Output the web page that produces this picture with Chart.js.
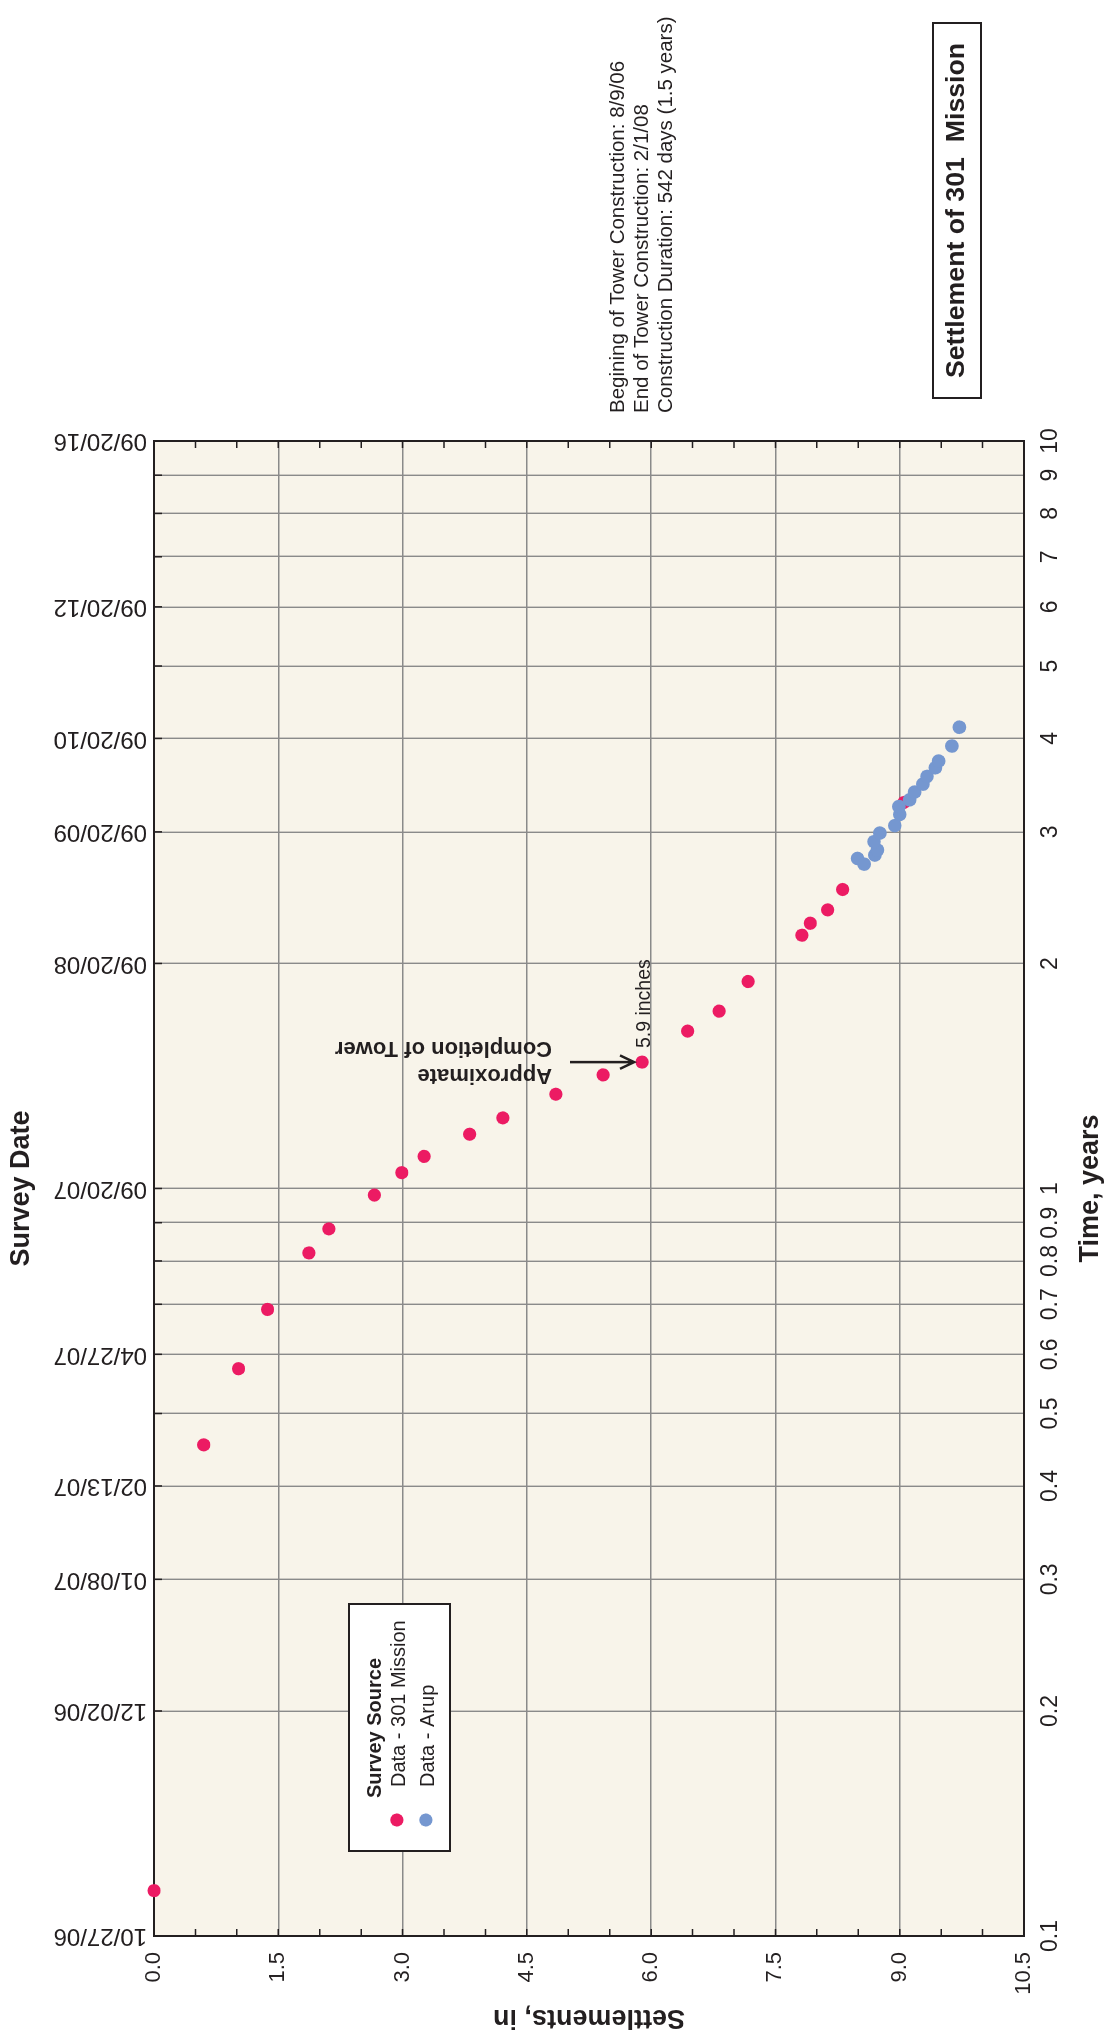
<!DOCTYPE html>
<html>
<head>
<meta charset="utf-8">
<title>Settlement of 301 Mission</title>
<script src="https://cdn.jsdelivr.net/npm/chart.js@4.4.1/dist/chart.umd.min.js"></script>
<style>
html, body { margin: 0; padding: 0; width: 1110px; height: 2034px; overflow: hidden; background: #fff; }
/* the chart is drawn landscape and turned a quarter turn, like the printed sheet */
#wrap { position: absolute; left: 0; top: 0; width: 2034px; height: 1110px; transform-origin: 0 0; transform: translate(0px, 2034px) rotate(-90deg); }
</style>
</head>
<body>
<div id="wrap"><canvas id="chart-area" width="2034" height="1110"></canvas></div>
<script>
// survey data, time in years after 09/20/06, settlement in inches
var missionTime = [0.115, 0.454, 0.574, 0.689, 0.820, 0.883, 0.980, 1.050, 1.104, 1.182, 1.243,
	1.337, 1.419, 1.476, 1.624, 1.727, 1.892, 2.182, 2.264, 2.359, 2.512, 3.284];
var missionSettle = [0.00, 0.60, 1.02, 1.37, 1.87, 2.11, 2.66, 2.99, 3.26, 3.81, 4.21,
	4.85, 5.42, 5.89, 6.44, 6.82, 7.17, 7.82, 7.92, 8.13, 8.31, 9.05];
var arupTime = [2.764, 2.716, 2.793, 2.837, 2.911, 2.989, 3.058, 3.165, 3.243, 3.311, 3.391,
	3.475, 3.559, 3.655, 3.731, 3.908, 4.141];
var arupSettle = [8.49, 8.57, 8.70, 8.73, 8.69, 8.76, 8.94, 9.00, 8.99, 9.12, 9.18,
	9.28, 9.33, 9.43, 9.47, 9.63, 9.72];

// axes
var timeTicks = [0.1, 0.2, 0.3, 0.4, 0.5, 0.6, 0.7, 0.8, 0.9, 1, 2, 3, 4, 5, 6, 7, 8, 9, 10];
var timeLabels = ['0.1', '0.2', '0.3', '0.4', '0.5', '0.6', '0.7', '0.8', '0.9', '1', '2', '3', '4', '5', '6', '7', '8', '9', '10'];
var dateTicks = [0.1, 0.2, 0.3, 0.4, 0.6, 1, 2, 3, 4, 6, 10];
var dateLabels = ['10/27/06', '12/02/06', '01/08/07', '02/13/07', '04/27/07', '09/20/07',
	'09/20/08', '09/20/09', '09/20/10', '09/20/12', '09/20/16'];
var settleTicks = [0, 1.5, 3, 4.5, 6, 7.5, 9, 10.5];
var settleLabels = ['0.0', '1.5', '3.0', '4.5', '6.0', '7.5', '9.0', '10.5'];

var notes = [
	'Begining of Tower Construction: 8/9/06',
	'End of Tower Construction: 2/1/08',
	'Construction Duration: 542 days (1.5 years)'
];
var completionIndex = 13;

var FONT = '"Liberation Sans", Arial, sans-serif';
var ink = '#231F20';
var gridColor = '#8A8A8A';
var plotFill = '#F8F4EA';

function pairs(xs, ys) {
	return xs.map(function(x, i) { return {x: x, y: ys[i]}; });
}

var sheet = {
	id: 'sheet',
	beforeDraw: function(chart) {
		var a = chart.chartArea, ctx = chart.ctx;
		ctx.save();
		ctx.fillStyle = plotFill;
		ctx.fillRect(a.left, a.top, a.right - a.left, a.bottom - a.top);
		ctx.restore();
	},
	beforeDatasetsDraw: function(chart) {
		var a = chart.chartArea, ctx = chart.ctx;
		var xs = chart.scales.x, ys = chart.scales.y;
		ctx.save();
		ctx.strokeStyle = ink;
		ctx.lineWidth = 1.5;
		ctx.beginPath();
		for (var s = 0.5; s < 10.5; s += 0.5) {
			var py = ys.getPixelForValue(s);
			ctx.moveTo(a.left, py); ctx.lineTo(a.left + 7, py);
			ctx.moveTo(a.right, py); ctx.lineTo(a.right - 7, py);
		}
		timeTicks.forEach(function(t) {
			var px = xs.getPixelForValue(t);
			ctx.moveTo(px, a.top); ctx.lineTo(px, a.top + 8);
		});
		ctx.stroke();
		ctx.lineWidth = 2;
		ctx.strokeRect(a.left, a.top, a.right - a.left, a.bottom - a.top);
		ctx.restore();
	},
	afterDraw: function(chart) {
		var a = chart.chartArea, ctx = chart.ctx;
		var xs = chart.scales.x, ys = chart.scales.y;
		ctx.save();
		ctx.fillStyle = ink;
		ctx.strokeStyle = ink;
		ctx.textAlign = 'left';
		ctx.textBaseline = 'alphabetic';

		// construction notes
		ctx.font = '20.5px ' + FONT;
		notes.forEach(function(line, i) {
			ctx.fillText(line, a.right + 28, 624 + i * 24);
		});

		// boxed title
		ctx.lineWidth = 2;
		ctx.strokeRect(1636, 933, 375, 48);
		ctx.font = 'bold 26.7px ' + FONT;
		ctx.textAlign = 'center';
		ctx.textBaseline = 'middle';
		ctx.fillText('Settlement of 301  Mission', 1823.5, 957);

		// legend
		ctx.fillStyle = '#fff';
		ctx.fillRect(183, 349, 247, 101);
		ctx.strokeRect(183, 349, 247, 101);
		ctx.fillStyle = ink;
		ctx.textAlign = 'left';
		ctx.textBaseline = 'alphabetic';
		ctx.font = 'bold 20px ' + FONT;
		ctx.fillText('Survey Source', 236, 381);
		ctx.font = '20px ' + FONT;
		chart.data.datasets.forEach(function(ds, i) {
			var base = 404.5 + i * 29;
			ctx.fillStyle = ds.backgroundColor;
			ctx.beginPath();
			ctx.arc(214, base - 7.7, 6.6, 0, Math.PI * 2);
			ctx.fill();
			ctx.fillStyle = ink;
			ctx.fillText(ds.label, 247, base);
		});

		// completion of tower arrow
		var px = xs.getPixelForValue(missionTime[completionIndex]);
		var py = ys.getPixelForValue(missionSettle[completionIndex]);
		ctx.lineWidth = 2.5;
		ctx.beginPath();
		ctx.moveTo(px, py - 72); ctx.lineTo(px, py - 8);
		ctx.moveTo(px - 6.7, py - 22); ctx.lineTo(px, py - 8); ctx.lineTo(px + 6.7, py - 22);
		ctx.stroke();
		ctx.font = '19.5px ' + FONT;
		ctx.fillText('5.9 inches', px + 14, py + 8);
		ctx.font = 'bold 22px ' + FONT;
		[['Approximate', -7], ['Completion of Tower', 20]].forEach(function(l) {
			ctx.save();
			ctx.translate(px + l[1], py - 90);
			ctx.rotate(-Math.PI / 2);
			ctx.fillText(l[0], 0, 0);
			ctx.restore();
		});
		ctx.restore();
	}
};

var config = {
	type: 'scatter',
	data: {
		datasets: [{
			label: 'Data - 301 Mission',
			data: pairs(missionTime, missionSettle),
			backgroundColor: '#EC1B63',
			pointRadius: 6.6,
			borderWidth: 0,
			clip: false,
			order: 2
		}, {
			label: 'Data - Arup',
			data: pairs(arupTime, arupSettle),
			backgroundColor: '#7597D0',
			pointRadius: 6.8,
			borderWidth: 0,
			clip: false,
			order: 1
		}]
	},
	options: {
		responsive: false,
		animation: false,
		devicePixelRatio: 1,
		layout: { padding: { left: 0, top: 0, bottom: 0, right: 441 } },
		plugins: {
			legend: { display: false },
			tooltip: { enabled: false }
		},
		scales: {
			x: {
				type: 'logarithmic',
				position: 'bottom',
				min: 0.1,
				max: 10,
				afterBuildTicks: function(axis) {
					axis.ticks = timeTicks.map(function(v) { return {value: v}; });
				},
				afterFit: function(axis) { axis.height = 86; },
				ticks: {
					autoSkip: false,
					minRotation: 0,
					maxRotation: 0,
					padding: 13,
					color: ink,
					font: { family: FONT, size: 23 },
					callback: function(v) {
						var i = timeTicks.indexOf(v);
						return i < 0 ? '' : timeLabels[i];
					}
				},
				grid: { color: gridColor, lineWidth: 1.4, drawTicks: false },
				border: { display: false },
				title: {
					display: true,
					text: 'Time, years',
					color: ink,
					font: { family: FONT, size: 27, weight: 'bold' },
					padding: { top: 0, bottom: 3 }
				}
			},
			x2: {
				type: 'logarithmic',
				position: 'top',
				min: 0.1,
				max: 10,
				afterBuildTicks: function(axis) {
					axis.ticks = dateTicks.map(function(v) { return {value: v}; });
				},
				afterFit: function(axis) { axis.height = 154; },
				ticks: {
					autoSkip: false,
					minRotation: 90,
					maxRotation: 90,
					padding: 7,
					color: ink,
					// zero line height keeps the turned labels centred on their ticks
					font: { family: FONT, size: 24, lineHeight: 0 },
					callback: function(v) {
						var i = dateTicks.indexOf(v);
						return i < 0 ? '' : dateLabels[i];
					}
				},
				grid: { display: false, drawTicks: false },
				border: { display: false },
				title: {
					display: true,
					text: 'Survey Date',
					color: ink,
					font: { family: FONT, size: 27, weight: 'bold' },
					padding: { top: 5.5, bottom: 0 }
				}
			},
			y: {
				type: 'linear',
				position: 'left',
				reverse: true,
				min: 0,
				max: 10.5,
				afterBuildTicks: function(axis) {
					axis.ticks = settleTicks.map(function(v) { return {value: v}; });
				},
				afterFit: function(axis) { axis.width = 98; },
				ticks: {
					padding: 16,
					color: ink,
					font: { family: FONT, size: 22 },
					callback: function(v) {
						var i = settleTicks.indexOf(v);
						return i < 0 ? '' : settleLabels[i];
					}
				},
				grid: { color: gridColor, lineWidth: 1.4, drawTicks: false },
				border: { display: false },
				title: {
					display: true,
					text: 'Settlements, in',
					color: ink,
					font: { family: FONT, size: 27, weight: 'bold' },
					padding: { top: 0, bottom: 0 }
				}
			}
		}
	},
	plugins: [sheet]
};

window.onload = function() {
	var ctx = document.getElementById('chart-area').getContext('2d');
	window.mySettlement = new Chart(ctx, config);
};
</script>
</body>
</html>
